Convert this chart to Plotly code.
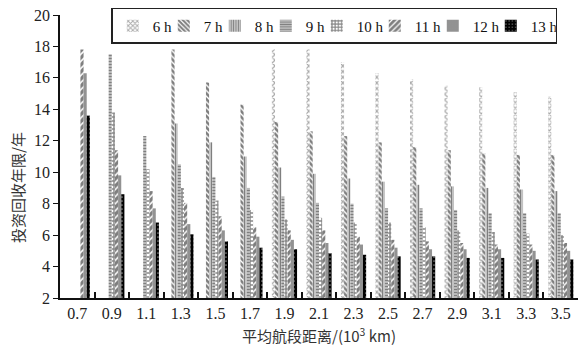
import plotly.graph_objects as go

categories = ["0.7", "0.9", "1.1", "1.3", "1.5", "1.7", "1.9", "2.1",
              "2.3", "2.5", "2.7", "2.9", "3.1", "3.3", "3.5"]
series_names = ["6 h", "7 h", "8 h", "9 h", "10 h", "11 h", "12 h", "13 h"]

h6 = [None, None, None, None, None, None, 17.8, 17.8, 17.0, 16.3, 15.9, 15.5, 15.4, 15.1, 14.8]
h7 = [None, None, None, 17.8, 15.7, 14.3, 13.2, 12.6, 12.3, 11.9, 11.6, 11.4, 11.2, 11.1, 11.1]
h8 = [None, None, None, 13.1, 11.9, 11.0, 10.3, 9.9, 9.6, 9.4, 9.2, 9.1, 9.0, 8.9, 8.8]
h9 = [None, 17.5, 12.3, 10.5, 9.7, 9.0, 8.45, 8.05, 8.0, 7.7, 7.7, 7.6, 7.4, 7.4, 7.4]
h10 = [None, 13.8, 10.2, 9.0, 8.2, 7.6, 7.0, 7.1, 6.8, 6.8, 6.5, 6.3, 6.2, 6.1, 6.0]
h11 = [17.8, 11.4, 8.8, 8.05, 7.2, 6.5, 6.3, 6.3, 5.9, 5.7, 5.6, 5.5, 5.4, 5.4, 5.5]
h12 = [16.3, 9.8, 7.7, 6.7, 6.3, 5.9, 5.7, 5.5, 5.4, 5.2, 5.1, 5.1, 5.1, 5.0, 5.0]
h13 = [13.6, 8.6, 6.8, 6.05, 5.6, 5.2, 5.1, 4.85, 4.75, 4.65, 4.65, 4.55, 4.55, 4.45, 4.45]

y_ticks = [2, 4, 6, 8, 10, 12, 14, 16, 18, 20]

all_values = [h6, h7, h8, h9, h10, h11, h12, h13]

styles = [
    dict(color="white", pattern=dict(shape="x", fgcolor="#555", bgcolor="white", size=4, solidity=0.5)),
    dict(color="white", pattern=dict(shape="\\", fgcolor="#000", bgcolor="white", size=4, solidity=0.65)),
    dict(color="white", pattern=dict(shape="|", fgcolor="#000", bgcolor="white", size=3, solidity=0.65)),
    dict(color="white", pattern=dict(shape="-", fgcolor="#000", bgcolor="white", size=3, solidity=0.7)),
    dict(color="white", pattern=dict(shape="+", fgcolor="#111", bgcolor="white", size=4, solidity=0.6)),
    dict(color="white", pattern=dict(shape="/", fgcolor="#000", bgcolor="white", size=5, solidity=0.7)),
    dict(color="#909090", pattern=dict(shape=".", fgcolor="#555", bgcolor="#a0a0a0", size=2, solidity=0.4)),
    dict(color="#000", pattern=dict(shape=".", fgcolor="white", bgcolor="#000", size=4, solidity=0.15)),
]
legend_widths = [6, 6, 6, 6, 13, 13, 13, 20]

fig = go.Figure()
for name, vals, st, lw in zip(series_names, all_values, styles, legend_widths):
    fig.add_trace(go.Bar(
        x=categories, y=vals, name=name, legendwidth=lw,
        marker=dict(color=st["color"], pattern=st["pattern"], line=dict(width=0)),
    ))

serif = "Liberation Serif, Times New Roman, DejaVu Serif, serif"
cjk = "Noto Sans CJK SC"

fig.update_layout(
    width=578, height=350,
    margin=dict(l=60, r=0, t=15, b=52, autoexpand=False),
    paper_bgcolor="white", plot_bgcolor="white",
    barmode="group", bargap=0.27, bargroupgap=0.0,
    showlegend=True,
    legend=dict(
        orientation="h", x=0.96, xanchor="right", y=1.025, yanchor="top",
        font=dict(family=serif, size=15, color="#111"),
        bordercolor="#222", borderwidth=1.5, bgcolor="white",
        itemwidth=30, traceorder="normal", entrywidthmode="pixels",
    ),
    xaxis=dict(
        type="category", categoryorder="array", categoryarray=categories,
        showline=True, linecolor="#111", linewidth=1.5,
        ticks="inside", ticklen=6, tickwidth=2, tickcolor="#111",
        tickson="boundaries",
        tickfont=dict(family=serif, size=16, color="#222"),
        showgrid=False, zeroline=False,
    ),
    yaxis=dict(
        range=[2, 20], tickvals=y_ticks,
        showline=True, linecolor="#111", linewidth=1.5,
        ticks="outside", ticklen=5, tickwidth=1.2, tickcolor="#111",
        tickfont=dict(family=serif, size=16, color="#222"),
        showgrid=False, zeroline=False,
    ),
    annotations=[
        dict(text="投资回收年限/年", textangle=-90, xref="paper", yref="paper",
             x=-0.081, y=0.389, xanchor="center", yanchor="middle", showarrow=False,
             font=dict(family=cjk, size=15, color="#333")),
        dict(text="平均航段距离/(10<sup>3</sup> km)", xref="paper", yref="paper",
             x=0.5, y=-0.13, xanchor="center", yanchor="middle", showarrow=False,
             font=dict(family=cjk, size=15, color="#333")),
    ],
)

fig.write_html("out.html", config={"displayModeBar": False},
               post_script="document.body.style.margin='0';document.body.style.padding='0';")
